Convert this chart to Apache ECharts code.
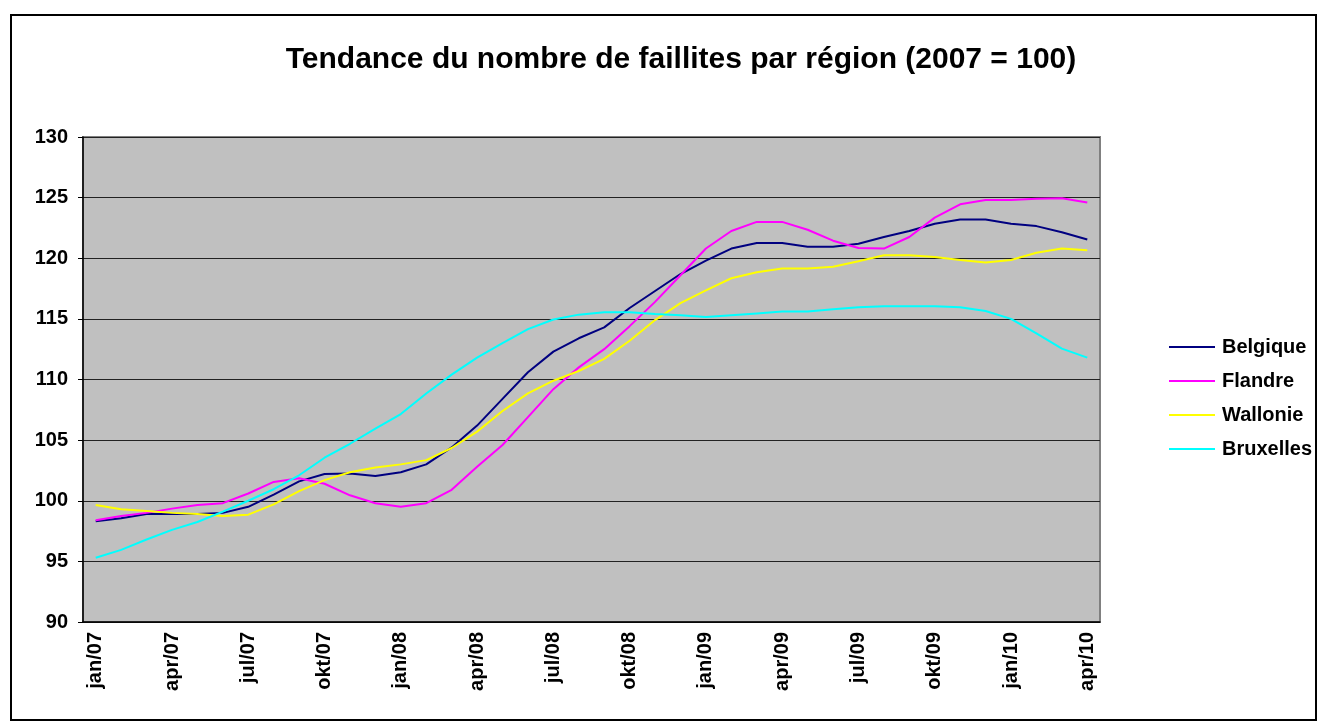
<!DOCTYPE html>
<html>
<head>
<meta charset="utf-8">
<script src="https://cdn.jsdelivr.net/npm/echarts@6/dist/echarts.min.js"></script>
<style>
  html, body { margin: 0; padding: 0; background: #ffffff; }
  #chart { width: 1319px; height: 724px; }
</style>
</head>
<body>
<div id="chart"></div>
<script>
// maanden jan/07 .. apr/10
const monthNames = ['jan', 'feb', 'mrt', 'apr', 'mei', 'jun', 'jul', 'aug', 'sep', 'okt', 'nov', 'dec']
const categories = []
for (let y = 7; y <= 10; y++) {
  for (let m = 0; m < 12; m++) {
    if (y === 10 && m > 3) break
    categories.push(monthNames[m] + '/' + String(y).padStart(2, '0'))
  }
}

const belgique = [
  98.3, 98.55, 98.9, 98.9, 98.9, 99.0, 99.5, 100.5, 101.6, 102.2,
  102.25, 102.05, 102.35, 103.0, 104.4, 106.2, 108.4, 110.6, 112.3, 113.4,
  114.3, 115.9, 117.3, 118.7, 119.8, 120.8, 121.25, 121.25, 120.95, 120.95,
  121.2, 121.75, 122.25, 122.85, 123.2, 123.2, 122.85, 122.65, 122.15, 121.55
]
const flandre = [
  98.4, 98.75, 99.0, 99.35, 99.65, 99.8, 100.6, 101.55, 101.85, 101.4,
  100.45, 99.8, 99.5, 99.8, 100.9, 102.8, 104.6, 106.9, 109.2, 111.0,
  112.5, 114.4, 116.4, 118.6, 120.8, 122.25, 123.0, 123.0, 122.35, 121.45,
  120.85, 120.8, 121.75, 123.35, 124.45, 124.8, 124.8, 124.9, 124.95, 124.6
]
const wallonie = [
  99.65, 99.3, 99.15, 99.0, 98.9, 98.75, 98.85, 99.7, 100.8, 101.7,
  102.35, 102.75, 103.0, 103.35, 104.35, 105.7, 107.4, 108.85, 109.9, 110.7,
  111.7, 113.2, 114.9, 116.3, 117.35, 118.35, 118.85, 119.15, 119.15, 119.3,
  119.75, 120.25, 120.25, 120.1, 119.85, 119.65, 119.85, 120.45, 120.8, 120.65
]
const bruxelles = [
  95.3, 95.95, 96.8, 97.6, 98.25, 99.1, 100.0, 100.95, 102.1, 103.55,
  104.7, 105.95, 107.15, 108.85, 110.4, 111.8, 113.0, 114.15, 114.95, 115.35,
  115.55, 115.55, 115.4, 115.3, 115.15, 115.3, 115.45, 115.6, 115.6, 115.8,
  115.95, 116.05, 116.05, 116.05, 115.95, 115.65, 115.0, 113.8, 112.55, 111.8
]

const seriesNames = ['Belgique', 'Flandre', 'Wallonie', 'Bruxelles']
const seriesData = [belgique, flandre, wallonie, bruxelles]
const seriesColors = ['#000080', '#ff00ff', '#ffff00', '#00ffff']

const font = '"Liberation Sans", Arial, sans-serif'

const chart = echarts.init(document.getElementById('chart'))
chart.setOption({
  animation: false,
  backgroundColor: '#ffffff',
  textStyle: { fontFamily: font },
  graphic: [{
    type: 'rect',
    shape: { x: 11, y: 15, width: 1305, height: 705 },
    style: { fill: 'none', stroke: '#000000', lineWidth: 2 },
    silent: true
  }],
  title: {
    text: 'Tendance du nombre de faillites par région (2007 = 100)',
    left: 676,
    top: 40,
    textAlign: 'center',
    textStyle: {
      color: '#000000',
      fontSize: 30,
      fontWeight: 'bold',
      fontFamily: font
    }
  },
  legend: {
    orient: 'vertical',
    left: 1169,
    top: 337,
    padding: 0,
    itemWidth: 46,
    itemHeight: 2,
    itemGap: 14,
    icon: 'rect',
    data: seriesNames,
    textStyle: {
      color: '#000000',
      fontSize: 20,
      fontWeight: 'bold',
      fontFamily: font,
      padding: [0, 0, 0, 2]
    }
  },
  grid: {
    left: 83,
    right: 219,
    top: 137,
    bottom: 102,
    show: true,
    backgroundColor: '#c0c0c0',
    borderColor: '#808080',
    borderWidth: 2
  },
  xAxis: {
    type: 'category',
    data: categories,
    boundaryGap: true,
    axisLine: { lineStyle: { color: '#000000', width: 1.5 } },
    axisTick: { interval: 2, length: 5, lineStyle: { color: '#000000' } },
    axisLabel: {
      interval: 2,
      rotate: 90,
      margin: 10,
      color: '#000000',
      fontSize: 20,
      fontWeight: 'bold',
      fontFamily: font
    },
    splitLine: { show: false }
  },
  yAxis: {
    type: 'value',
    min: 90,
    max: 130,
    interval: 5,
    axisLine: { show: true, lineStyle: { color: '#000000', width: 1.5 } },
    axisTick: { show: true, length: 5, lineStyle: { color: '#000000' } },
    axisLabel: {
      margin: 15,
      color: '#000000',
      fontSize: 20,
      fontWeight: 'bold',
      fontFamily: font
    },
    splitLine: { lineStyle: { color: '#222222', width: 1.2 } }
  },
  series: seriesNames.map((name, k) => ({
    name: name,
    type: 'line',
    data: seriesData[k],
    symbol: 'none',
    lineStyle: { color: seriesColors[k], width: 2 },
    itemStyle: { color: seriesColors[k] }
  }))
})
</script>
</body>
</html>
